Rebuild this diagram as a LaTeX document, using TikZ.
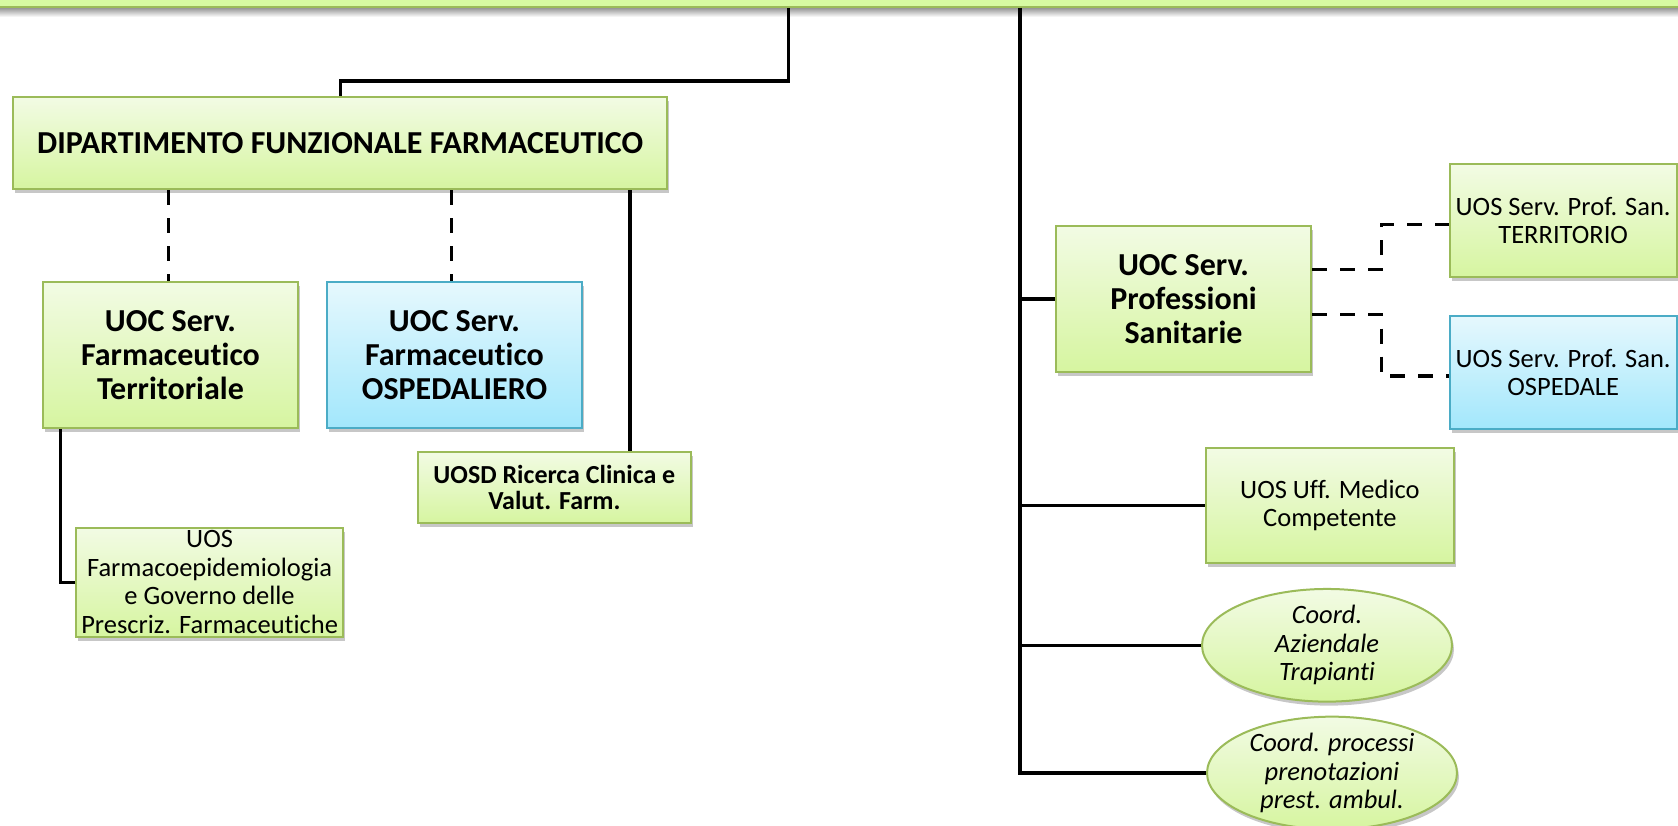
\documentclass[tikz,border=0pt]{standalone}
\usepackage{fontspec}
\setmainfont{Carlito}[Ligatures=NoCommon]
\usetikzlibrary{shapes.geometric,shadows}
\definecolor{gfillT}{HTML}{F2FBE4}
\definecolor{gfillB}{HTML}{D6F5A0}
\definecolor{gborder}{HTML}{9BBB59}
\definecolor{bfillT}{HTML}{E6F8FD}
\definecolor{bfillB}{HTML}{A2E7FC}
\definecolor{bborder}{HTML}{4BACC6}
\definecolor{barfill}{HTML}{D7FAA2}
\newcommand\FontBig{\fontsize{32}{34}\selectfont\bfseries}
\newcommand\FontMid{\fontsize{26}{26}\selectfont\bfseries}
\newcommand\FontReg{\fontsize{26.5}{28.5}\selectfont}
\newcommand\FontIt{\fontsize{26.5}{28.5}\selectfont\itshape}
\begin{document}
\begin{tikzpicture}[x=1pt,y=-1pt,
  box/.style={rectangle, draw=gborder, line width=2pt, top color=gfillT, bottom color=gfillB,
    inner sep=0pt, align=center,
    drop shadow={shadow xshift=2pt, shadow yshift=-4pt, fill=black, opacity=0.22}},
  bluebox/.style={box, draw=bborder, top color=bfillT, bottom color=bfillB},
  oval/.style={ellipse, draw=gborder, line width=2pt, top color=gfillT, bottom color=gfillB,
    inner sep=0pt, align=center,
    drop shadow={shadow xshift=2pt, shadow yshift=-4pt, fill=black, opacity=0.22}},
  conn/.style={line width=3.3pt, black},
  dashline/.style={line width=3.3pt, black, dash pattern=on 15pt off 13pt}
]
\useasboundingbox (0,0) rectangle (1678,826);
\fill[white] (0,0) rectangle (1678,826);

% top bar
\shade[top color=black!45, bottom color=white] (0,7) rectangle (1678,17);
\node[rectangle, draw=gborder, line width=2pt, fill=barfill, minimum width=1720pt, minimum height=64pt, inner sep=0pt] (top) at (839,-25) {};

% left branch
\node[box, minimum width=653.6pt, minimum height=92.5pt, font=\FontBig] (dip) at (340.2,143.2) {DIPARTIMENTO FUNZIONALE FARMACEUTICO};
\node[box, minimum width=254.4pt, minimum height=146.6pt, font=\FontBig] (terr) at (170.5,355) {UOC Serv.\\Farmaceutico\\Territoriale};
\node[bluebox, minimum width=254.5pt, minimum height=146.6pt, font=\FontBig] (osp) at (454.5,355) {UOC Serv.\\Farmaceutico\\OSPEDALIERO};
\node[box, minimum width=273.2pt, minimum height=71.6pt, font=\FontMid] (uosd) at (554.4,487.5) {UOSD Ricerca Clinica e\\Valut. Farm.};
\node[box, minimum width=267.6pt, minimum height=109pt, font=\FontReg] (farm) at (209.6,582.2) {UOS\\Farmacoepidemiologia\\e Governo delle\\Prescriz. Farmaceutiche};

% right branch
\node[box, minimum width=255pt, minimum height=145.7pt, font=\FontBig] (prof) at (1183.5,298.9) {UOC Serv.\\Professioni\\Sanitarie};
\node[box, minimum width=227pt, minimum height=113.3pt, font=\FontReg] (uosterr) at (1563.2,220.7) {UOS Serv. Prof. San.\\TERRITORIO};
\node[bluebox, minimum width=227pt, minimum height=113.6pt, font=\FontReg] (uososp) at (1563.2,372.5) {UOS Serv. Prof. San.\\OSPEDALE};
\node[box, minimum width=248.2pt, minimum height=114.4pt, font=\FontReg] (med) at (1329.9,505.5) {UOS Uff. Medico\\Competente};
\node[oval, minimum width=250pt, minimum height=106pt, font=\FontIt] (ell1) at (1327,645.3) {Coord.\\Aziendale\\Trapianti};
\node[oval, minimum width=250pt, minimum height=106pt, font=\FontIt] (ell2) at (1332,773) {Coord. processi\\prenotazioni\\prest. ambul.};

% connectors left
\coordinate (j1) at (788.7,81);
\draw[conn] (j1 |- top.south) -- (j1) -| (dip.north);
\coordinate (k1) at (168.7,0);
\coordinate (k2) at (451.8,0);
\draw[dashline] (k1 |- dip.south) -- (k1 |- terr.north);
\draw[dashline] (k2 |- dip.south) -- (k2 |- osp.north);
\coordinate (u1) at (630,0);
\draw[conn] (u1 |- dip.south) -- (u1 |- uosd.north);
\coordinate (tl) at (60.5,0);
\draw[conn] (tl |- terr.south) |- (farm.west);

% connectors right
\coordinate (rv) at (1020,0);
\draw[conn] (rv |- top.south) -- (rv |- ell2.west) -- (ell2.west);
\draw[conn] (rv |- prof.west) -- (prof.west);
\draw[conn] (rv |- med.west) -- (med.west);
\draw[conn] (rv |- ell1.west) -- (ell1.west);
\coordinate (d1) at (1381.8,224.3);
\coordinate (d2) at (1381.8,376);
\draw[dashline] ([yshift=29.6pt]prof.east) -| (d1) -- (d1 -| uosterr.west);
\draw[dashline] ([yshift=-15.4pt]prof.east) -| (d2) -- (d2 -| uososp.west);
\end{tikzpicture}
\end{document}
